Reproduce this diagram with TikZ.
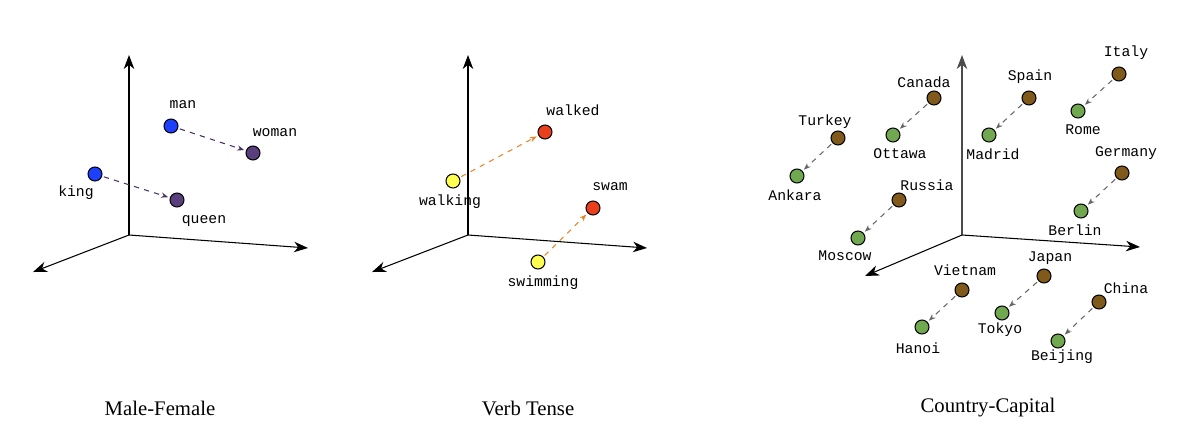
\documentclass[tikz,border=0pt]{standalone}
\usepackage{fontspec}
\setmainfont{Liberation Serif}
\newfontfamily\monof{Liberation Mono}
\usetikzlibrary{arrows.meta}
\definecolor{cblue}{HTML}{1F3FFF}
\definecolor{cpurp}{HTML}{5A3F7F}
\definecolor{cyel}{HTML}{FFFF50}
\definecolor{cred}{HTML}{E8401C}
\definecolor{cbrown}{HTML}{7F5A1A}
\definecolor{cgreen}{HTML}{70A850}
\definecolor{corange}{HTML}{E8862A}
\begin{document}
\begin{tikzpicture}[x=0.02cm,y=-0.02cm,
  dot/.style={circle,draw=black,line width=0.6pt,minimum size=14*0.02cm,inner sep=0pt},
  lab/.style={font=\monof\fontsize{8.4pt}{10pt}\selectfont,inner sep=0pt},
  title/.style={font=\fontsize{11.8pt}{14pt}\selectfont,inner sep=0pt},
  axis/.style={-{Stealth[length=8pt,width=6pt,inset=2.5pt]},line width=0.6pt},
  vec/.style={-{Stealth[length=4pt,width=3pt]},dashed,line width=0.6pt,shorten >=1pt,shorten <=1pt}]
\useasboundingbox (0,0) rectangle (1200,437);
% Panel 1
\coordinate (o1) at (129,235);
\coordinate (u1) at (129,55); \coordinate (r1) at (308,248); \coordinate (l1) at (33,272);
\draw[axis] (o1)--(u1); \draw[axis] (o1)--(r1); \draw[axis] (o1)--(l1);
\node[dot,fill=cblue] (man) at (171,126) {};
\node[dot,fill=cpurp] (woman) at (253,153) {};
\node[dot,fill=cblue] (king) at (95,174) {};
\node[dot,fill=cpurp] (queen) at (177,200) {};
\draw[vec,cpurp!80!black] (man)--(woman);
\draw[vec,cpurp!80!black] (king)--(queen);
\node[lab] (tman) at (183,105) {man};
\node[lab] (twoman) at (275,133) {woman};
\node[lab] (tking) at (76,193) {king};
\node[lab] (tqueen) at (204,221) {queen};
\node[title] (t1) at (160,408) {Male-Female};
% Panel 2
\coordinate (o2) at (468,235);
\coordinate (u2) at (468,55); \coordinate (r2) at (647,248); \coordinate (l2) at (372,272);
\draw[axis] (o2)--(u2); \draw[axis] (o2)--(r2); \draw[axis] (o2)--(l2);
\node[dot,fill=cyel] (walking) at (453,181) {};
\node[dot,fill=cred] (walked) at (545,132) {};
\node[dot,fill=cyel] (swimming) at (538,262) {};
\node[dot,fill=cred] (swam) at (593,208) {};
\draw[vec,corange] (walking)--(walked);
\draw[vec,corange] (swimming)--(swam);
\node[lab] (twalking) at (450,202) {walking};
\node[lab] (twalked) at (573,110) {walked};
\node[lab] (tswimming) at (543,283) {swimming};
\node[lab] (tswam) at (610,187) {swam};
\node[title] (t2) at (528,408) {Verb Tense};
% Panel 3
\coordinate (o3) at (962,235);
\coordinate (u3) at (962,55); \coordinate (r3) at (1140,247); \coordinate (l3) at (865,276);
\draw[axis,black!70] (o3)--(u3); \draw[axis] (o3)--(r3); \draw[axis] (o3)--(l3);
\foreach \c/\cx/\cy/\clx/\cly/\k/\kx/\ky/\klx/\kly in {
 Italy/1119/74/1126/53/Rome/1078/111/1083/130,
 Spain/1029/98/1030/77/Madrid/989/135/993/154,
 Canada/934/98/924/82/Ottawa/893/135/900/154,
 Turkey/838/138/825/122/Ankara/797/176/795/195,
 Russia/899/200/927/185/Moscow/858/238/845/256,
 Germany/1122/173/1126/153/Berlin/1081/211/1075/230,
 Vietnam/962/290/965/270/Hanoi/922/327/918/348,
 Japan/1044/276/1050/258/Tokyo/1002/313/1000/330,
 China/1099/302/1126/288/Beijing/1058/341/1062/357}{
  \node[dot,fill=cbrown] (\c) at (\cx,\cy) {};
  \node[dot,fill=cgreen] (\k) at (\kx,\ky) {};
  \draw[vec,black!60] (\c)--(\k);
  \node[lab] (t\c) at (\clx,\cly) {\c};
  \node[lab] (t\k) at (\klx,\kly) {\k};
}
\node[title] (t3) at (988,408) {Country-Capital};
\end{tikzpicture}
\end{document}
